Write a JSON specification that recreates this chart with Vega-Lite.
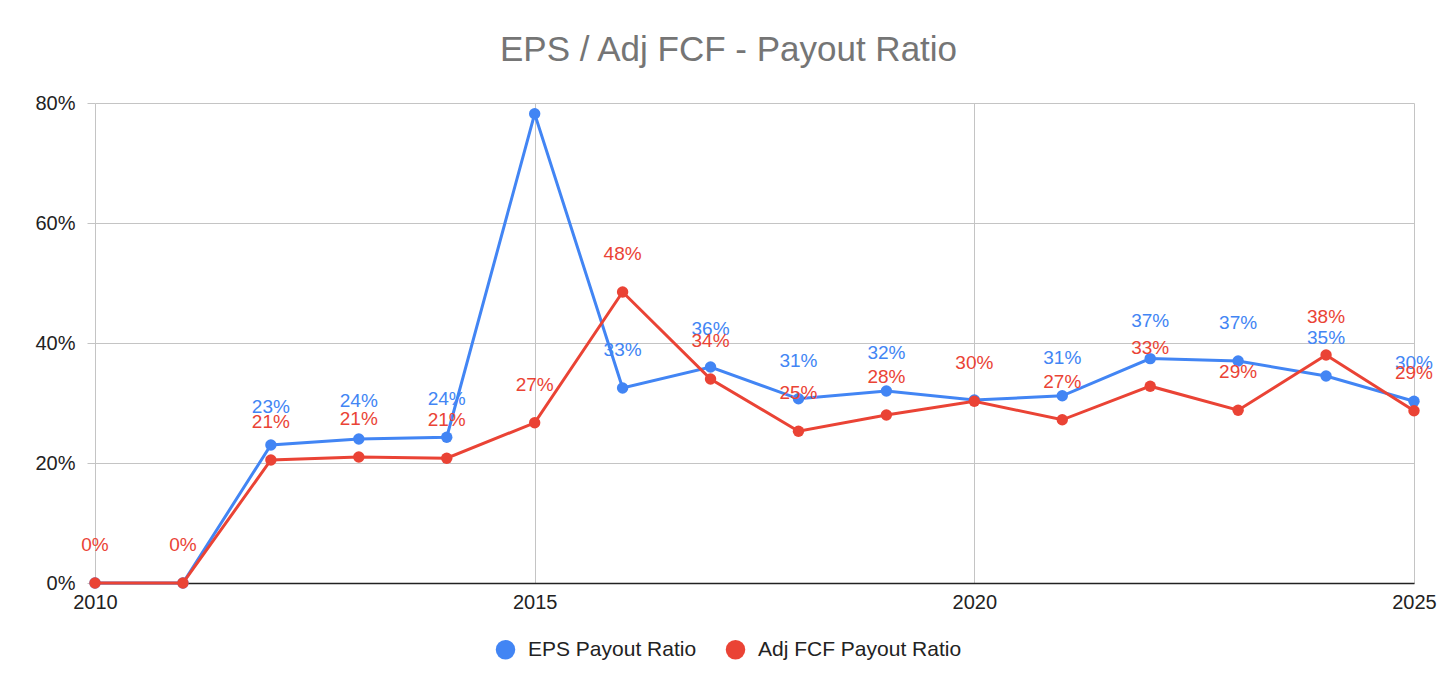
{
  "$schema": "https://vega.github.io/schema/vega-lite/v6.json",
  "width": 1319,
  "height": 480,
  "autosize": {"type": "none"},
  "padding": {"left": 95, "top": 103, "right": 42, "bottom": 111},
  "background": "white",
  "config": {
    "font": "Liberation Sans",
    "view": {"stroke": null},
    "axis": {"labelFont": "Liberation Sans", "labelFontSize": 19, "labelColor": "#222222"}
  },
  "title": {
    "text": "EPS / Adj FCF - Payout Ratio",
    "fontSize": 35,
    "fontWeight": "normal",
    "color": "#757575",
    "font": "Liberation Sans",
    "anchor": "middle",
    "dx": -26,
    "offset": 25
  },
  "data": {
    "values": [
      {"year": 2010, "series": "EPS Payout Ratio", "value": 0.0, "label": ""},
      {"year": 2011, "series": "EPS Payout Ratio", "value": 0.0, "label": ""},
      {"year": 2012, "series": "EPS Payout Ratio", "value": 0.23, "label": "23%"},
      {"year": 2013, "series": "EPS Payout Ratio", "value": 0.24, "label": "24%"},
      {"year": 2014, "series": "EPS Payout Ratio", "value": 0.243, "label": "24%"},
      {"year": 2015, "series": "EPS Payout Ratio", "value": 0.782, "label": ""},
      {"year": 2016, "series": "EPS Payout Ratio", "value": 0.325, "label": "33%"},
      {"year": 2017, "series": "EPS Payout Ratio", "value": 0.36, "label": "36%"},
      {"year": 2018, "series": "EPS Payout Ratio", "value": 0.307, "label": "31%"},
      {"year": 2019, "series": "EPS Payout Ratio", "value": 0.32, "label": "32%"},
      {"year": 2020, "series": "EPS Payout Ratio", "value": 0.305, "label": ""},
      {"year": 2021, "series": "EPS Payout Ratio", "value": 0.312, "label": "31%"},
      {"year": 2022, "series": "EPS Payout Ratio", "value": 0.374, "label": "37%"},
      {"year": 2023, "series": "EPS Payout Ratio", "value": 0.37, "label": "37%"},
      {"year": 2024, "series": "EPS Payout Ratio", "value": 0.345, "label": "35%"},
      {"year": 2025, "series": "EPS Payout Ratio", "value": 0.303, "label": "30%"},
      {"year": 2010, "series": "Adj FCF Payout Ratio", "value": 0.0, "label": "0%"},
      {"year": 2011, "series": "Adj FCF Payout Ratio", "value": 0.0, "label": "0%"},
      {"year": 2012, "series": "Adj FCF Payout Ratio", "value": 0.205, "label": "21%"},
      {"year": 2013, "series": "Adj FCF Payout Ratio", "value": 0.21, "label": "21%"},
      {"year": 2014, "series": "Adj FCF Payout Ratio", "value": 0.208, "label": "21%"},
      {"year": 2015, "series": "Adj FCF Payout Ratio", "value": 0.267, "label": "27%"},
      {"year": 2016, "series": "Adj FCF Payout Ratio", "value": 0.485, "label": "48%"},
      {"year": 2017, "series": "Adj FCF Payout Ratio", "value": 0.34, "label": "34%"},
      {"year": 2018, "series": "Adj FCF Payout Ratio", "value": 0.253, "label": "25%"},
      {"year": 2019, "series": "Adj FCF Payout Ratio", "value": 0.28, "label": "28%"},
      {"year": 2020, "series": "Adj FCF Payout Ratio", "value": 0.303, "label": "30%"},
      {"year": 2021, "series": "Adj FCF Payout Ratio", "value": 0.272, "label": "27%"},
      {"year": 2022, "series": "Adj FCF Payout Ratio", "value": 0.328, "label": "33%"},
      {"year": 2023, "series": "Adj FCF Payout Ratio", "value": 0.288, "label": "29%"},
      {"year": 2024, "series": "Adj FCF Payout Ratio", "value": 0.38, "label": "38%"},
      {"year": 2025, "series": "Adj FCF Payout Ratio", "value": 0.287, "label": "29%"}
    ]
  },
  "encoding": {
    "x": {
      "field": "year",
      "type": "quantitative",
      "scale": {"domain": [2010, 2025], "nice": false, "zero": false},
      "axis": {
        "title": null,
        "values": [2010, 2015, 2020, 2025],
        "format": "d",
        "grid": true,
        "gridColor": "#c4c4c4",
        "gridWidth": 1,
        "ticks": false,
        "domain": true,
        "domainColor": "#222222",
        "domainWidth": 1.5,
        "labelPadding": 9,
        "labelFontSize": 20,
        "labelFlush": false
      }
    },
    "y": {
      "field": "value",
      "type": "quantitative",
      "scale": {"domain": [0, 0.8], "nice": false},
      "axis": {
        "title": null,
        "values": [0, 0.2, 0.4, 0.6, 0.8],
        "format": ".0%",
        "grid": true,
        "gridColor": "#c4c4c4",
        "gridWidth": 1,
        "ticks": true,
        "tickSize": 8,
        "tickColor": "#c4c4c4",
        "domain": false,
        "labelFontSize": 20,
        "labelPadding": 12
      }
    },
    "color": {
      "field": "series",
      "type": "nominal",
      "scale": {
        "domain": ["EPS Payout Ratio", "Adj FCF Payout Ratio"],
        "range": ["#4285F4", "#EA4335"]
      },
      "legend": {
        "title": null,
        "orient": "none",
        "legendX": 400,
        "legendY": 536,
        "direction": "horizontal",
        "symbolType": "circle",
        "symbolSize": 380,
        "symbolStrokeWidth": 0,
        "labelFontSize": 21,
        "labelFont": "Liberation Sans",
        "labelColor": "#222222",
        "labelLimit": 400,
        "columnPadding": 28,
        "labelOffset": 12
      }
    }
  },
  "layer": [
    {
      "transform": [{"filter": "datum.series === 'EPS Payout Ratio'"}],
      "mark": {"type": "line", "strokeWidth": 3}
    },
    {
      "transform": [{"filter": "datum.series === 'EPS Payout Ratio'"}],
      "mark": {"type": "point", "filled": true, "size": 130, "opacity": 1}
    },
    {
      "transform": [{"filter": "datum.series === 'Adj FCF Payout Ratio'"}],
      "mark": {"type": "line", "strokeWidth": 3}
    },
    {
      "transform": [{"filter": "datum.series === 'Adj FCF Payout Ratio'"}],
      "mark": {"type": "point", "filled": true, "size": 130, "opacity": 1}
    },
    {
      "transform": [{"filter": "datum.label !== ''"}],
      "mark": {"type": "text", "dy": -38, "baseline": "middle", "align": "center", "fontSize": 19, "font": "Liberation Sans"},
      "encoding": {
        "text": {"field": "label", "type": "nominal"}
      }
    }
  ]
}
